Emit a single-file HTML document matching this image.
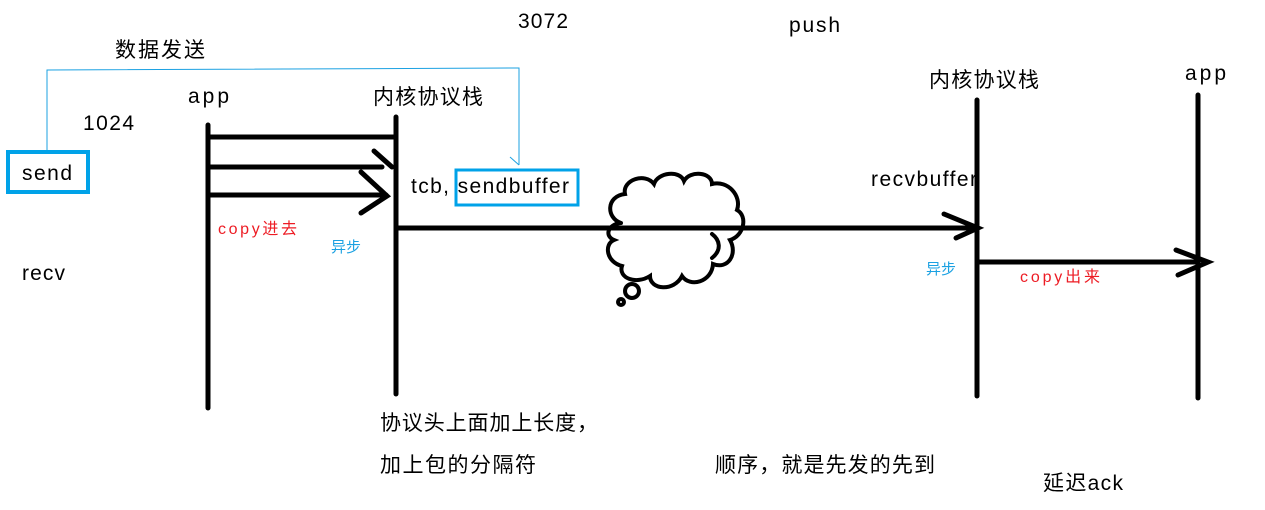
<!DOCTYPE html>
<html><head><meta charset="utf-8"><style>
html,body{margin:0;padding:0;background:#fff;width:1265px;height:510px;overflow:hidden}
svg text{font-family:"Liberation Sans","Noto Sans CJK SC",sans-serif;font-size:21px;fill:#000}
</style></head><body>
<svg width="1265" height="510" viewBox="0 0 1265 510" xmlns="http://www.w3.org/2000/svg">
<g fill="none" stroke="#1ba1e2" stroke-width="1">
<polyline points="47,150 47,70 519,68 519,165"/>
<line x1="510" y1="157" x2="519" y2="165"/>
</g>
<rect x="8" y="152" width="80" height="40" fill="none" stroke="#00a2e8" stroke-width="4"/>
<rect x="456" y="170" width="122" height="35" fill="none" stroke="#00a2e8" stroke-width="3"/>
<g stroke="#000" stroke-width="5" fill="none" stroke-linecap="round">
<line x1="208" y1="125" x2="208" y2="408"/>
<line x1="396" y1="117" x2="396" y2="394"/>
<line x1="977" y1="100" x2="977" y2="396"/>
<line x1="1198" y1="95" x2="1198" y2="398"/>
<line x1="208" y1="137" x2="394" y2="137"/>
<line x1="208" y1="167" x2="382" y2="167"/>
<polyline points="374,151 392,167"/>
<line x1="208" y1="195" x2="386" y2="195"/>
<polyline points="361,172 387,196 361,213"/>
<line x1="398" y1="228" x2="975" y2="228"/>
<polyline points="944,214 978,228 956,238"/>
<line x1="979" y1="262" x2="1198" y2="262"/>
<polyline points="1176,250 1208,262 1178,275"/>
</g>
<g stroke="#000" stroke-width="4" fill="none" stroke-linecap="round">
<path d="M621,223 C606,218 606,196 625,194 C622,180 645,172 654,184 C658,172 680,170 684,181 C690,170 712,172 712,184 C728,180 742,196 737,210 C748,216 744,236 730,240 C738,254 728,270 713,264 C712,282 690,288 682,276 C674,292 650,290 650,276 C636,285 618,278 622,266 C606,262 604,244 614,240 C604,236 608,224 621,223"/>
<path d="M712,234 C720,240 722,250 712,258"/>
<circle cx="632" cy="291" r="7"/>
<circle cx="621" cy="302" r="3"/>
</g>
<text x="115" y="57" textLength="90">数据发送</text>
<text x="518" y="28" textLength="50">3072</text>
<text x="789" y="32" textLength="51">push</text>
<text x="83" y="130" textLength="51">1024</text>
<text x="188" y="103" textLength="41">app</text>
<text x="373" y="104" textLength="110">内核协议栈</text>
<text x="22" y="180" textLength="50">send</text>
<text x="411" y="193" textLength="158">tcb, sendbuffer</text>
<text x="218" y="234" style="font-size:16px;fill:#ed1c24" textLength="79">copy进去</text>
<text x="331" y="252" style="font-size:15px;fill:#1ba1e2">异步</text>
<text x="22" y="280" textLength="43">recv</text>
<text x="871" y="186" textLength="106">recvbuffer</text>
<text x="929" y="87" textLength="110">内核协议栈</text>
<text x="1185" y="80" textLength="41">app</text>
<text x="926" y="274" style="font-size:15px;fill:#1ba1e2">异步</text>
<text x="1020" y="282" style="font-size:16px;fill:#ed1c24" textLength="80">copy出来</text>
<text x="380" y="430" textLength="218">协议头上面加上长度，</text>
<text x="380" y="472" textLength="156">加上包的分隔符</text>
<text x="715" y="472" textLength="220">顺序，就是先发的先到</text>
<text x="1043" y="490" textLength="80">延迟ack</text>
</svg>
</body></html>
